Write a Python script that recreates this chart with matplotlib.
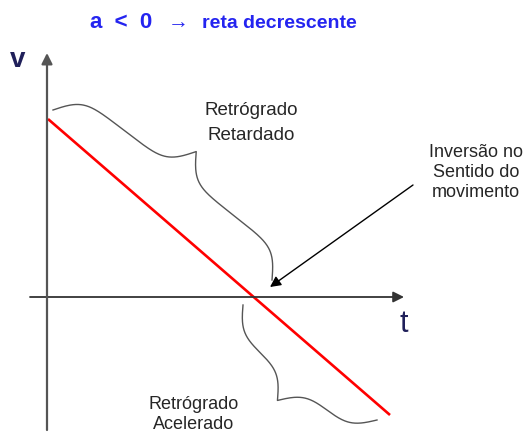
import numpy as np
import matplotlib
matplotlib.use("Agg")
import matplotlib.pyplot as plt

plt.rcParams['font.family'] = ['Liberation Sans', 'DejaVu Sans']

# v(t), origin at the crossing of the axes (1 unit ~ 1 px)
t_line = [1, 343]
v_line = [178, -118]

# axis extents (t axis, v axis)
t_axis = [-17, 357]
v_axis = [-133, 244]

# braces: end points (t, v) and depth
brace_upper = [(6, 187), (225, 17)]
brace_lower = [(196, -8), (330, -123)]
depth_upper = 55
depth_lower = -50

# arrow to the inversion point
arrow_tail = (366, 112)
arrow_head = (223, 10)

title_main = "a  <  0"
title_arrow = "\u2192"
title_sub = "reta decrescente"
label_upper = ["Retrógrado", "Retardado"]
label_lower = ["Retrógrado", "Acelerado"]
label_inv = ["Inversão no", "Sentido do", "movimento"]

W, H = 527, 434
OX, OY = 47, 297  # pixel position of the origin


def px(x, y):
    """Pixel position of the reference -> data coords."""
    return x - OX, OY - y


def curly_brace(ax, p1, p2, depth, beta=0.11, **kw):
    p1 = np.asarray(p1, float)
    p2 = np.asarray(p2, float)
    d = p2 - p1
    L = np.hypot(*d)
    u = d / L
    n = np.array([-u[1], u[0]])
    half = np.linspace(0, L / 2, 200)
    h = (1 / (1 + np.exp(-beta * (half - half[0])))
         + 1 / (1 + np.exp(-beta * (half - half[-1]))))
    s = np.concatenate([half, L - half[::-1][1:]])
    h = np.concatenate([h, h[::-1][1:]])
    h = (h - h.min()) / (h.max() - h.min()) * depth
    pts = p1 + np.outer(s, u) + np.outer(h, n)
    ax.plot(pts[:, 0], pts[:, 1], **kw)


def text_lines(ax, lines, x, baselines, **kw):
    for line, yb in zip(lines, baselines):
        ax.text(*px(x, yb), line, ha='center', va='baseline', **kw)


fig = plt.figure(figsize=(W / 100, H / 100), dpi=100)
ax = fig.add_axes([0, 0, 1, 1])
ax.set_xlim(-OX, W - OX)
ax.set_ylim(OY - H, OY)
ax.axis('off')

# axes with arrow heads
ax.annotate('', xy=(t_axis[1], 0), xytext=(t_axis[0], 0),
            arrowprops=dict(arrowstyle='-|>', color='#333333', lw=1.3,
                            mutation_scale=16, shrinkA=0, shrinkB=0))
ax.annotate('', xy=(0, v_axis[1]), xytext=(0, v_axis[0]),
            arrowprops=dict(arrowstyle='-|>', color='#555555', lw=1.6,
                            mutation_scale=16, shrinkA=0, shrinkB=0))

# red v(t) line
ax.plot(t_line, v_line, color='#ff0000', lw=1.9, solid_capstyle='butt')

# braces
curly_brace(ax, *brace_upper, depth_upper, color='#555555', lw=1.0)
curly_brace(ax, *brace_lower, depth_lower, color='#555555', lw=1.0)

# arrow pointing at the inversion
ax.annotate('', xy=arrow_head, xytext=arrow_tail,
            arrowprops=dict(arrowstyle='-|>', color='black', lw=1.0,
                            mutation_scale=16, shrinkA=0, shrinkB=0))

# axis labels
ax.text(*px(18, 67), 'v', ha='center', va='baseline', fontsize=20,
        fontweight='bold', color='#20205a')
ax.text(*px(404, 332), 't', ha='center', va='baseline', fontsize=22,
        color='#20205a')

# title
blue = '#2424f0'
ax.text(*px(90, 28), title_main, ha='left', va='baseline', fontsize=16,
        fontweight='bold', color=blue)
ax.text(*px(178, 23), title_arrow, ha='center', va='center', fontsize=15,
        color=blue)
ax.text(*px(202, 28), title_sub, ha='left', va='baseline', fontsize=14,
        fontweight='bold', color=blue)

# labels
txt = '#262626'
text_lines(ax, label_upper, 251, [115, 140], fontsize=13.5, color=txt)
text_lines(ax, label_lower, 194, [409, 429], fontsize=13, color=txt)
text_lines(ax, label_inv, 476, [157, 177, 197], fontsize=13, color=txt)

fig.savefig('out.png', dpi=100)
